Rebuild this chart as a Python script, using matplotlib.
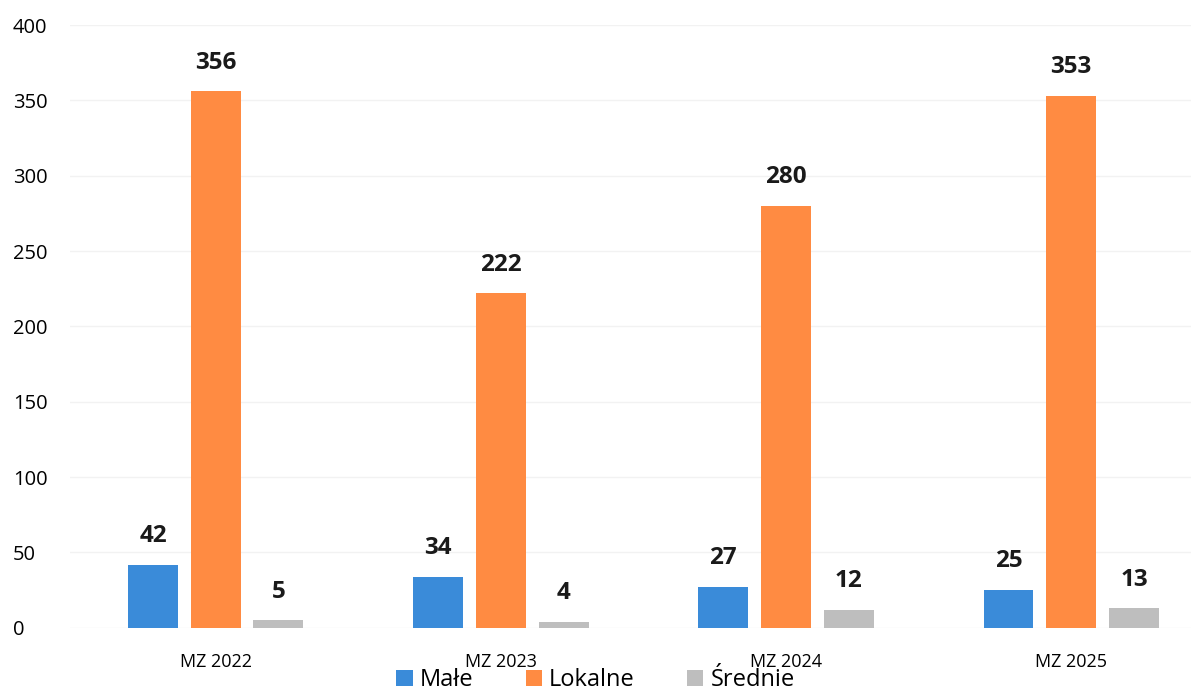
import matplotlib
matplotlib.use("Agg")
import matplotlib.pyplot as plt
import numpy as np

categories = ["MZ 2022", "MZ 2023", "MZ 2024", "MZ 2025"]
series_names = ["Małe", "Lokalne", "Średnie"]
male = [42, 34, 27, 25]
lokalne = [356, 222, 280, 353]
srednie = [5, 4, 12, 13]
colors = ["#3A8BD9", "#FF8B42", "#BEBEBE"]
yticks = [0, 50, 100, 150, 200, 250, 300, 350, 400]

plt.rcParams["font.family"] = ["Open Sans", "DejaVu Sans"]

fig = plt.figure(figsize=(11.91, 6.96), dpi=100)
ax = fig.add_axes([0.059, 0.098, 0.941, 0.866])

x = np.arange(len(categories))
width = 0.175
step = 0.22
for k, (vals, name, col) in enumerate(zip([male, lokalne, srednie], series_names, colors)):
    bars = ax.bar(x + (k - 1) * step, vals, width, color=col, label=name, zorder=2)
    for b, v in zip(bars, vals):
        ax.annotate(str(v), (b.get_x() + b.get_width() / 2, v),
                    xytext=(0, 12), textcoords="offset points",
                    ha="center", va="bottom", fontsize=17.5, fontweight="bold",
                    color="#1a1a1a")

ax.set_xlim(-0.51, 3.42)
ax.set_ylim(0, 400)
ax.set_yticks(yticks)
ax.set_xticks(x)
ax.set_xticklabels(categories, fontsize=13)
ax.tick_params(axis="y", labelsize=14.5, length=0)
ax.tick_params(axis="x", length=0, pad=18)
ax.grid(axis="y", color="#f2f2f2", linewidth=1, zorder=0)
for s in ax.spines.values():
    s.set_visible(False)
for lbl in ax.get_yticklabels():
    lbl.set_horizontalalignment("left")
    lbl.set_x(-0.047)

fig.legend(loc="lower center", bbox_to_anchor=(0.5, -0.025), ncol=3, frameon=False,
           fontsize=17, handlelength=0.7, handleheight=0.7, handletextpad=0.3,
           columnspacing=2.2)

fig.savefig("out.png", dpi=100, facecolor="white")
